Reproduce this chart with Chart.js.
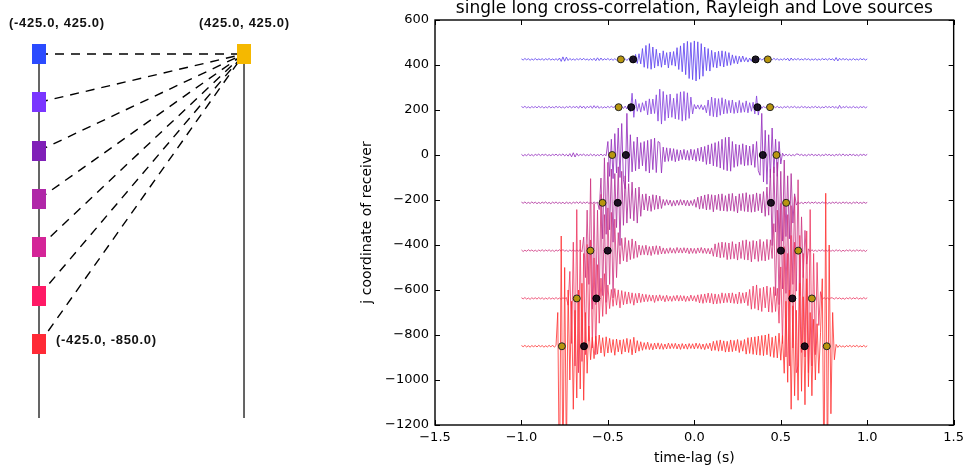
<!DOCTYPE html>
<html><head><meta charset="utf-8">
<script src="https://cdn.jsdelivr.net/npm/chart.js@4.4.1/dist/chart.umd.min.js"></script>
<style>
html,body{margin:0;padding:0;background:#fff;width:969px;height:471px;overflow:hidden;}
#wrap{position:relative;width:969px;height:471px;}
#left{position:absolute;left:0;top:0;}
#right{position:absolute;left:330px;top:0;}
.lbl{position:absolute;font-family:"Liberation Sans",Arial,sans-serif;font-weight:bold;font-size:13px;letter-spacing:0.7px;color:#111;white-space:nowrap;line-height:13px;}
</style></head><body>
<div id="wrap">
<canvas id="left" width="330" height="471"></canvas>
<canvas id="right" width="639" height="471"></canvas>
<div class="lbl" style="left:9px;top:16px">(-425.0, 425.0)</div>
<div class="lbl" style="left:199px;top:16px">(425.0, 425.0)</div>
<div class="lbl" style="left:56px;top:333px">(-425.0, -850.0)</div>
</div>
<script>
// ---------------- data ----------------
const timeStart = -1.0, timeStep = 0.01;          // sample grid of every trace (s)
const receiverJ = [425, 212.5, 0, -212.5, -425, -637.5, -850];
const receiverX = -425, sourceX = 425, sourceY = 425, lineBottom = -1175;

const trace1 = [
 2,-3,4,-2,3,-4,2,-3,4,-3,2,-2,3,-4,3,-2,4,-3,2,-3,
 3,-4,6,-9,11,-8,10,-5,4,-3,2,-4,3,-2,4,-3,5,-3,2,-4,
 3,-4,5,-6,7,-5,6,-4,3,-2,4,-3,2,-4,3,-3,4,-2,3,-4,
 3,-5,4,-6,8,-14,22,-18,25,-20,48,-35,62,-40,70,-44,55,-38,45,-30,
 28,-35,38,-25,30,-38,33,-26,35,-30,52,-45,60,-55,72,-68,80,-85,75,-90,
 82,-96,78,-88,70,-75,55,-50,48,-52,40,-35,32,-38,36,-30,38,-34,35,-28,
 30,-26,20,-18,16,-20,14,-12,15,-10,8,-12,6,-8,5,-6,4,-3,5,-4,
 3,-4,2,-3,4,-3,5,-2,3,-4,2,-3,4,-3,5,-7,6,-4,3,-2,
 4,-3,2,-3,4,-2,3,-4,2,-3,3,-4,2,-3,4,-2,3,-3,4,-2,
 3,-6,8,-7,5,-3,4,-2,3,-4,2,-3,4,-3,2,-3,4,-2,3,-3,
 2];
const trace2 = [
 3,-2,4,-3,2,-4,3,-2,3,-3,4,-2,3,-4,2,-3,4,-3,2,-3,
 4,-2,3,-3,2,-4,3,-2,4,-3,3,-2,4,-5,6,-4,5,-6,4,-3,
 6,-5,7,-4,6,-5,3,-4,2,-3,4,-3,5,-2,3,-4,5,-3,4,-6,
 5,-8,12,-20,62,-45,35,-18,16,-22,20,-15,28,-34,37,-30,36,-28,55,-62,
 80,-75,70,-60,55,-48,58,-45,40,-52,60,-55,68,-62,70,-58,64,-50,45,-30,
 12,-8,10,-9,11,-12,8,-25,32,-38,45,-42,40,-44,38,-36,42,-30,35,-28,
 30,-25,32,-28,22,-26,30,-24,20,-22,28,-25,20,-18,22,-30,50,-35,10,-6,
 4,-3,5,-2,3,-4,3,-2,4,-3,2,-4,3,-2,4,-3,3,-2,4,-3,
 2,-3,4,-2,3,-3,2,-4,3,-2,4,-3,3,-4,2,-3,4,-2,3,-3,
 5,-4,3,-6,8,-5,3,-2,4,-3,2,-3,4,-3,2,-4,3,-2,3,-3,
 2];
const trace3 = [
 3,-4,2,-3,4,-3,2,-4,3,-2,4,-3,3,-2,4,-4,2,-3,3,-2,
 4,-3,3,-2,5,-4,3,-5,6,-8,10,-9,7,-4,3,-2,4,-3,2,-3,
 4,-3,3,-4,2,-3,4,-3,2,-3,60,-95,70,-105,95,-80,120,-100,140,-110,
 -150,185,-120,90,-75,60,-70,80,-62,55,-48,60,-72,65,-80,70,-65,75,-78,60,
 55,-80,35,-30,32,-28,30,-25,28,-30,24,-26,22,-20,25,-22,20,-24,26,-22,
 24,-28,30,-26,35,-30,38,-42,45,-40,50,-48,55,-52,60,-58,70,-65,78,-70,
 80,-72,60,-55,48,-50,45,-42,50,-48,44,-46,40,-45,48,-55,60,-70,-90,185,
 -120,110,-130,90,-100,120,-80,70,-95,60,-40,8,-5,4,-3,3,-4,2,-3,4,
 4,-2,3,-3,2,-4,3,-2,4,-3,2,-3,3,-4,2,-3,4,-2,3,-3,
 2,-4,3,-2,4,-3,5,-3,2,-3,4,-2,3,-3,2,-4,3,-2,3,-2,
 3];
const trace4 = [
 3,-2,4,-3,2,-3,4,-2,3,-4,2,-3,3,-2,4,-3,2,-4,3,-2,
 4,-3,2,-3,3,-5,4,-3,2,-4,3,-2,4,-3,5,-4,3,-2,4,-3,
 2,-3,4,-2,3,-30,110,-160,200,-140,180,-120,150,-175,130,-110,160,-190,140,-100,
 120,-90,85,-70,92,-80,65,-90,70,-60,38,-32,40,-35,30,-38,36,-30,34,-28,
 30,-25,15,-12,14,-10,12,-15,10,-13,12,-11,14,-10,12,-13,11,-14,10,-12,
 15,-20,25,-28,30,-26,35,-32,38,-30,36,-40,34,-30,38,-35,40,-36,32,-38,
 40,-35,42,-38,30,-45,40,-35,42,-38,45,-40,36,-42,38,-40,44,-35,40,-45,
 50,-60,70,-55,150,-190,160,-130,180,-200,140,-170,190,-150,120,-160,130,-90,40,-10,
 4,-3,2,-4,3,-2,4,-3,3,-2,4,-3,2,-3,4,-2,3,-4,2,-3,
 3,-2,4,-3,2,-3,4,-2,3,-3,2,-4,3,-2,4,-3,2,-3,3,-2,
 2];
const trace5 = [
 3,-4,2,-3,4,-2,3,-3,2,-4,3,-2,4,-3,3,-2,4,-3,2,-4,
 3,-2,4,-3,5,-3,2,-4,3,-2,4,-3,3,-2,4,-5,60,-120,180,-150,
 320,-260,210,-240,180,-220,250,-200,160,-230,190,-150,170,-210,140,-120,80,-60,55,-45,
 58,-50,45,-40,52,-35,42,-30,25,-20,22,-18,24,-20,18,-22,20,-16,22,-18,
 20,-15,12,-14,10,-12,13,-11,10,-12,14,-10,12,-11,13,-10,12,-14,11,-12,
 10,-13,12,-10,14,-12,11,-13,10,-15,12,-25,30,-28,35,-32,38,-30,36,-40,
 34,-38,40,-36,30,-42,38,-35,45,-40,48,-42,40,-50,45,-38,42,-48,50,-44,
 40,-46,50,-40,48,-35,120,-200,180,-240,210,-170,230,-190,160,-220,200,-150,240,-180,
 315,-200,150,-120,90,-60,8,-5,4,-3,2,-4,3,-2,4,-3,3,-2,4,-3,
 2,-3,4,-2,3,-4,2,-3,3,-2,4,-3,2,-3,4,-2,3,-3,2,-4,
 3];
const trace6 = [
 3,-2,4,-3,2,-4,3,-2,3,-3,4,-2,3,-4,2,-3,4,-3,2,-3,
 4,-3,2,-4,3,-2,4,-30,120,-200,250,-300,395,-330,260,-280,200,-250,240,-190,
 260,-220,180,-250,150,-110,90,-80,110,-70,60,-45,40,-35,44,-30,38,-42,35,-28,
 30,-25,28,-22,25,-30,22,-20,24,-18,20,-15,18,-14,16,-12,15,-18,14,-12,
 16,-10,12,-15,14,-12,10,-13,12,-10,14,-12,13,-11,12,-14,10,-12,15,-11,
 12,-14,16,-20,18,-22,20,-18,24,-20,22,-25,20,-24,18,-22,25,-20,22,-18,
 24,-20,25,-22,20,-24,28,-22,25,-20,28,-32,40,-48,55,-45,60,-52,45,-58,
 50,-42,55,-60,48,-62,52,-58,45,-110,140,-200,230,-260,200,-300,280,-220,250,-330,
 -300,280,-240,200,-260,300,-330,395,-300,200,-250,160,-120,30,-5,4,-3,2,-4,3,
 2,-3,4,-2,3,-3,2,-4,3,-2,4,-3,3,-2,4,-3,2,-3,4,-2,
 3];
const trace7 = [
 3,-2,4,-3,2,-4,3,-2,3,-3,4,-2,3,-4,2,-3,4,-3,5,-4,
 3,150,-650,490,-600,350,-500,250,-150,200,-280,160,-230,250,-190,280,-240,150,-120,90,
 -60,40,-55,45,-35,50,-30,38,-45,42,-30,35,-28,30,-40,32,-25,28,-35,30,
 -25,35,-28,30,-38,40,-30,25,-22,20,-18,16,-14,18,-15,12,-16,14,-12,15,
 -13,12,-14,10,-12,14,-11,12,-10,13,-12,10,-14,12,-11,10,-13,12,-10,11,
 -12,14,-10,12,-13,10,-15,12,-11,14,-20,22,-18,25,-22,28,-20,24,-26,22,
 -25,28,-24,26,-20,30,-28,25,-22,30,-35,38,-32,40,-36,42,-38,45,-40,48,
 -42,50,-38,55,-45,40,-50,46,-52,58,-62,48,-120,200,-160,250,-280,180,-220,160,
 -240,280,-200,220,-260,300,-180,150,-220,120,-150,100,-120,60,300,-620,680,-600,450,-300,
 150,-60,8,-5,4,-3,2,-4,3,-2,4,-3,3,-2,4,-3,2,-3,4,-3,
 2];
const traces = [trace1, trace2, trace3, trace4, trace5, trace6, trace7];

const arrivalBlack  = [0.354, 0.365, 0.396, 0.443, 0.501, 0.567, 0.638];
const arrivalOrange = [0.425, 0.438, 0.475, 0.531, 0.601, 0.680, 0.766];

const xTickValues = [-1.5, -1.0, -0.5, 0.0, 0.5, 1.0, 1.5];
const xTickLabels = ['\u22121.5','\u22121.0','\u22120.5','0.0','0.5','1.0','1.5'];
const yTickValues = [-1200, -1000, -800, -600, -400, -200, 0, 200, 400, 600];
const yTickLabels = ['\u22121200','\u22121000','\u2212800','\u2212600','\u2212400','\u2212200','0','200','400','600'];

// ---------------- styles ----------------
const traceColors = ['rgba(98,70,240,0.85)','rgba(136,70,222,0.85)','rgba(150,50,190,0.85)',
  'rgba(176,50,158,0.85)','rgba(206,50,126,0.8)','rgba(236,54,96,0.8)','rgba(255,48,48,0.8)'];
const receiverColors = ['#2b4bff','#7a36ff','#8020b8','#b027a8','#d42598','#ff1a66','#ff2a36'];
const sourceColor = '#f5b800';
const FONT = 'DejaVu Sans';

// ---------------- right chart ----------------
const datasets = [];
traces.forEach((vals, k) => {
  datasets.push({
    data: vals.map((v, i) => ({x: timeStart + i * timeStep, y: receiverJ[k] + v})),
    borderColor: traceColors[k], borderWidth: 1, pointRadius: 0, tension: 0,
    order: 20 - k
  });
});
datasets.push({
  data: receiverJ.flatMap((j, k) => [{x: -arrivalBlack[k], y: j}, {x: arrivalBlack[k], y: j}]),
  showLine: false, pointRadius: 3.5, pointBackgroundColor: 'rgba(8,0,16,0.9)',
  pointBorderColor: '#000', pointBorderWidth: 1, order: 1
});
datasets.push({
  data: receiverJ.flatMap((j, k) => [{x: -arrivalOrange[k], y: j}, {x: arrivalOrange[k], y: j}]),
  showLine: false, pointRadius: 3.5, pointBackgroundColor: '#b8960e',
  pointBorderColor: '#222', pointBorderWidth: 1, order: 0
});

const framePlugin = {
  id: 'frame',
  afterDraw(chart) {
    const {ctx, chartArea: a, scales} = chart;
    ctx.save();
    ctx.strokeStyle = '#000';
    ctx.lineWidth = 1.4;
    ctx.strokeRect(a.left, a.top, a.right - a.left, a.bottom - a.top);
    ctx.lineWidth = 1;
    const L = 5;
    ctx.beginPath();
    scales.x.ticks.forEach(t => {
      const x = Math.round(scales.x.getPixelForValue(t.value)) + 0.5;
      ctx.moveTo(x, a.bottom); ctx.lineTo(x, a.bottom - L);
      ctx.moveTo(x, a.top); ctx.lineTo(x, a.top + L);
    });
    scales.y.ticks.forEach(t => {
      const y = Math.round(scales.y.getPixelForValue(t.value)) + 0.5;
      ctx.moveTo(a.left, y); ctx.lineTo(a.left + L, y);
      ctx.moveTo(a.right, y); ctx.lineTo(a.right - L, y);
    });
    ctx.stroke();
    ctx.restore();
  }
};

new Chart(document.getElementById('right'), {
  type: 'line',
  data: {datasets},
  options: {
    responsive: false, animation: false, devicePixelRatio: 1,
    layout: {padding: {left: 0, right: 14, top: 0, bottom: 0}, autoPadding: false},
    plugins: {
      legend: {display: false}, tooltip: {enabled: false},
      title: {display: true, fullSize: false,
        text: 'single long cross-correlation, Rayleigh and Love sources',
        color: '#000', font: {family: FONT, size: 17, weight: 'normal', lineHeight: '18px'},
        padding: {top: 0, bottom: 2}}
    },
    scales: {
      x: {
        type: 'linear', min: -1.5, max: 1.5,
        afterBuildTicks: s => { s.ticks = xTickValues.map(v => ({value: v})); },
        afterFit: s => { s.height = 46; },
        ticks: {callback: v => xTickLabels[xTickValues.indexOf(v)], color: '#000',
          font: {family: FONT, size: 13}, padding: 5, maxRotation: 0, autoSkip: false},
        grid: {display: false, drawTicks: false}, border: {display: false},
        title: {display: true, text: 'time-lag (s)', color: '#000',
          font: {family: FONT, size: 14}, padding: {top: 0, bottom: 4}}
      },
      y: {
        type: 'linear', min: -1200, max: 600,
        afterBuildTicks: s => { s.ticks = yTickValues.map(v => ({value: v})); },
        afterFit: s => { s.width = 105; },
        ticks: {callback: v => yTickLabels[yTickValues.indexOf(v)], color: '#000',
          font: {family: FONT, size: 13}, padding: 6, autoSkip: false},
        grid: {display: false, drawTicks: false}, border: {display: false},
        title: {display: true, text: 'j coordinate of receiver', color: '#000',
          font: {family: FONT, size: 14}, padding: {top: 29, bottom: 0}}
      }
    }
  },
  plugins: [framePlugin]
});

// ---------------- left chart (geometry sketch) ----------------
function rectImg(color) {
  const c = document.createElement('canvas');
  c.width = 14; c.height = 20;
  const g = c.getContext('2d');
  g.fillStyle = color; g.fillRect(0, 0, 14, 20);
  return c;
}
const leftSets = [];
leftSets.push({data: [{x: receiverX, y: receiverJ[0]}, {x: receiverX, y: lineBottom}],
  borderColor: '#333', borderWidth: 1.5, pointRadius: 0, order: 5});
leftSets.push({data: [{x: sourceX, y: sourceY}, {x: sourceX, y: lineBottom}],
  borderColor: '#333', borderWidth: 1.5, pointRadius: 0, order: 5});
receiverJ.forEach(j => {
  leftSets.push({data: [{x: receiverX, y: j}, {x: sourceX, y: sourceY}],
    borderColor: '#000', borderWidth: 1.4, borderDash: [9, 7], pointRadius: 0, order: 3});
});
leftSets.push({
  data: receiverJ.map(j => ({x: receiverX, y: j})).concat([{x: sourceX, y: sourceY}]),
  showLine: false, pointRadius: 10,
  pointStyle: receiverColors.map(rectImg).concat([rectImg(sourceColor)]),
  order: 0
});
new Chart(document.getElementById('left'), {
  type: 'line',
  data: {datasets: leftSets},
  options: {
    responsive: false, animation: false, devicePixelRatio: 1,
    layout: {padding: 0, autoPadding: false},
    plugins: {legend: {display: false}, tooltip: {enabled: false}, title: {display: false}},
    scales: {
      x: {type: 'linear', display: false, min: -586.7, max: 781.5},
      y: {type: 'linear', display: false, min: -1408, max: 662.4}
    }
  }
});
</script>
</body></html>
